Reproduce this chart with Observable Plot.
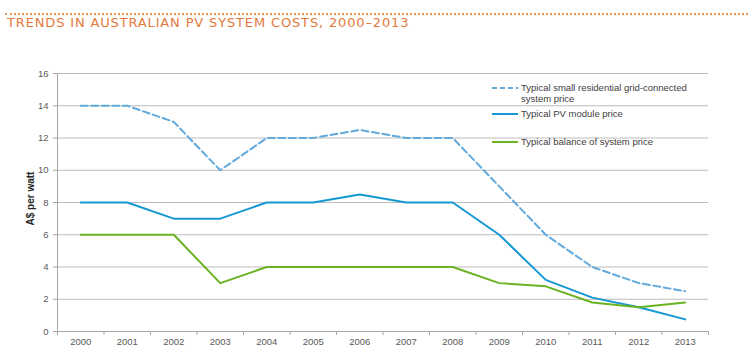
<!DOCTYPE html>
<html><head><meta charset="utf-8">
<script src="https://cdn.jsdelivr.net/npm/d3@7"></script>
<script src="https://cdn.jsdelivr.net/npm/@observablehq/plot@0.6"></script>
<style>
body{margin:0;background:#fff;width:754px;height:357px;overflow:hidden;position:relative;font-family:"Liberation Sans",Arial,sans-serif}
#header{position:relative;height:45px}
#dots{position:absolute;left:5px;right:6px;top:13px;border-top:2px dotted #eb9556}
#title{position:absolute;left:7px;top:15px;font-family:"DejaVu Sans",sans-serif;font-size:13px;color:#e5793b;letter-spacing:0.85px;white-space:nowrap}
.lg{position:absolute;left:492px;font-size:9.5px;color:#404040;line-height:11px;display:flex;align-items:flex-start}
.lg svg{flex:none;margin-right:3px}
</style>
</head><body>
<div id="header"><div id="dots"></div><div id="title"></div></div>
<div id="chart"></div>
<div id="legend"></div>
<script>
const years = [2000,2001,2002,2003,2004,2005,2006,2007,2008,2009,2010,2011,2012,2013];
const systemPrice = [14,14,13,10,12,12,12.5,12,12,9,6,4,3,2.5];
const modulePrice = [8,8,7,7,8,8,8.5,8,8,6,3.2,2.1,1.5,0.75];
const bosPrice = [6,6,6,3,4,4,4,4,4,3,2.8,1.8,1.5,1.8];
const seriesNames = ["Typical small residential grid-connected system price","Typical PV module price","Typical balance of system price"];
const seriesColors = ["#62aadc","#1598d3","#6ab323"];
const yTicks = [0,2,4,6,8,10,12,14,16];
const titleText = "TRENDS IN AUSTRALIAN PV SYSTEM COSTS, 2000–2013";
const yLabel = "A$ per watt";

document.getElementById("title").textContent = titleText;

const seriesValues = [systemPrice, modulePrice, bosPrice];
const data = seriesValues.map((vals, s) => years.map((year, i) => ({year, value: vals[i], series: seriesNames[s]})));
const yearEdges = d3.range(years[0] - 0.5, years[years.length - 1] + 1, 1);

const chart = Plot.plot({
  width: 754, height: 312,
  marginLeft: 57, marginRight: 46, marginTop: 28, marginBottom: 26,
  style: {fontFamily: '"Liberation Sans", Arial, sans-serif', fontSize: "9.5px", color: "#595959", background: "transparent"},
  x: {type: "linear", domain: [years[0] - 0.5, years[years.length - 1] + 0.5]},
  y: {domain: [0, 16]},
  marks: [
    Plot.gridY(yTicks.slice(1), {stroke: "#bdbdbd", strokeOpacity: 1}),
    Plot.ruleY([0], {stroke: "#a6a6a6"}),
    Plot.ruleX([years[0] - 0.5], {y1: 0, y2: 16, stroke: "#a6a6a6"}),
    Plot.axisY(yTicks, {tickSize: 4, tickPadding: 5, stroke: "#a6a6a6", fill: "#595959", label: null, tickFormat: d => String(d)}),
    Plot.axisX(years, {tickSize: 0, tickPadding: 7, fill: "#595959", label: null, tickFormat: d => String(d)}),
    Plot.axisX(yearEdges, {tickSize: 4, stroke: "#a6a6a6", label: null, tickFormat: () => ""}),
    Plot.line(data[0], {x: "year", y: "value", stroke: seriesColors[0], strokeWidth: 2, strokeDasharray: "7,3.5"}),
    Plot.line(data[1], {x: "year", y: "value", stroke: seriesColors[1], strokeWidth: 2}),
    Plot.line(data[2], {x: "year", y: "value", stroke: seriesColors[2], strokeWidth: 2}),
    Plot.text([yLabel], {frameAnchor: "left", textAnchor: "middle", dx: -27, dy: -4, rotate: -90, fontWeight: "bold", fill: "#262626", fontSize: 10})
  ]
});
document.getElementById("chart").appendChild(chart);

// legend
const legendTops = [82, 108, 136];
const legend = document.getElementById("legend");
seriesNames.forEach((name, i) => {
  const row = document.createElement("div");
  row.className = "lg";
  row.style.top = legendTops[i] + "px";
  const svg = d3.create("svg").attr("width", 26).attr("height", 11);
  svg.append("line").attr("x1", 0).attr("x2", 26).attr("y1", 6).attr("y2", 6)
    .attr("stroke", seriesColors[i]).attr("stroke-width", 2)
    .attr("stroke-dasharray", i === 0 ? "5,3" : null);
  row.appendChild(svg.node());
  const t = document.createElement("div");
  t.style.width = "180px";
  t.textContent = name;
  row.appendChild(t);
  legend.appendChild(row);
});
</script>
</body></html>
